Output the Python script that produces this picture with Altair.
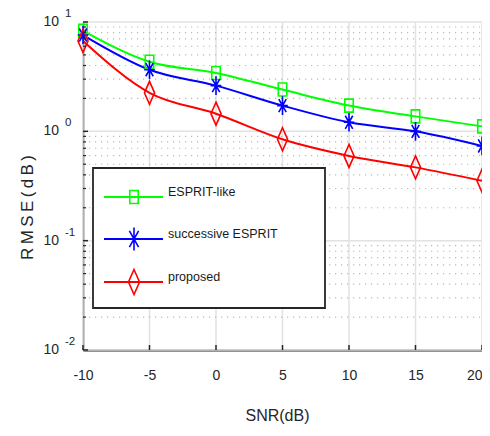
import altair as alt
import pandas as pd

snr = [-10, -5, 0, 5, 10, 15, 20]
esprit_like = [8.3, 4.33, 3.42, 2.41, 1.72, 1.37, 1.11]
successive = [7.6, 3.66, 2.62, 1.72, 1.21, 1.00, 0.735]
proposed = [6.7, 2.25, 1.45, 0.846, 0.596, 0.468, 0.353]
methods = ["ESPRIT-like", "successive ESPRIT", "proposed"]
colors = ["#00ff00", "#0000ff", "#ff0000"]

x_ticks = [-10, -5, 0, 5, 10, 15, 20]
y_major = [0.01, 0.1, 1, 10]
y_exp = ["-2", "-1", "0", "1"]
y_minor = [m * 10.0 ** e for e in (-2, -1, 0) for m in range(2, 10)]

SQ = "M-0.65,-1H0.65V1H-0.65Z"
AST = "M0,-1V1M-0.57,0H0.57M-0.4,-0.7L0.4,0.7M-0.4,0.7L0.4,-0.7"
DIA = "M0,-1L0.44,0L0,1L-0.44,0Z"
shapes = [SQ, AST, DIA]
sizes = [169, 529, 625]

W, H = 399, 328
FONT = "Liberation Sans, Arial"

rows = []
for name, vals in zip(methods, [esprit_like, successive, proposed]):
    for s, v in zip(snr, vals):
        rows.append({"snr": s, "rmse": v, "method": name})
df = pd.DataFrame(rows)

xs = alt.Scale(domain=[-10, 20], nice=False, zero=False)
ys = alt.Scale(type="log", domain=[0.01, 10], nice=False)

x_enc = alt.X("snr:Q", scale=xs, axis=alt.Axis(
    values=x_ticks, labelExpr="'' + datum.value", labelFlush=False, labelOverlap=False,
    labelAlign={"condition": {"test": "datum.value == 20", "value": "right"}, "value": "center"},
    title="SNR(dB)", titleX=194, titleY=65, titleBaseline="middle",
    titleFont=FONT, titleFontSize=16, titleFontWeight="normal", titleColor="#262626",
    labelFont=FONT, labelFontSize=14, labelColor="#262626", labelPadding=25,
    labelBaseline="middle", tickSize=0,
    domainColor="#262626", domainWidth=2, ticks=False, grid=False))
y_enc = alt.Y("rmse:Q", scale=ys, axis=alt.Axis(
    values=y_major, labels=False, ticks=False, tickSize=0, grid=False,
    title="R\u2009M\u2009S\u2009E\u2009(\u2009d\u2009B\u2009)", titleX=-56, titleY=185,
    titleBaseline="middle", titleAngle=270,
    titleFont=FONT, titleFontSize=17, titleFontWeight="normal",
    titleColor="#262626", domainColor="#262626", domainWidth=1.5))

# grids
xgrid = alt.Chart(pd.DataFrame({"snr": x_ticks})).mark_rule(color="#e2e2e2", strokeWidth=1.5).encode(
    x=alt.X("snr:Q", scale=xs), y=alt.value(0), y2=alt.value(H))
ygrid = alt.Chart(pd.DataFrame({"rmse": y_major})).mark_rule(color="#e2e2e2", strokeWidth=1.5).encode(
    y=alt.Y("rmse:Q", scale=ys), x=alt.value(0), x2=alt.value(W + 10))
ymgrid = alt.Chart(pd.DataFrame({"rmse": y_minor})).mark_rule(
    color="#b8b8b8", strokeWidth=1.2, strokeDash=[1.2, 4.8]).encode(
    y=alt.Y("rmse:Q", scale=ys), x=alt.value(0), x2=alt.value(W + 10))

# ticks (inward)
xtick = alt.Chart(pd.DataFrame({"snr": x_ticks})).mark_rule(color="#262626", strokeWidth=1.5).encode(
    x=alt.X("snr:Q", scale=xs), y=alt.value(H), y2=alt.value(H - 5))
ytick = alt.Chart(pd.DataFrame({"rmse": y_major})).mark_rule(color="#262626", strokeWidth=1.5).encode(
    y=alt.Y("rmse:Q", scale=ys), x=alt.value(0), x2=alt.value(5))
ymtick = alt.Chart(pd.DataFrame({"rmse": y_minor})).mark_rule(color="#262626", strokeWidth=1.2).encode(
    y=alt.Y("rmse:Q", scale=ys), x=alt.value(0), x2=alt.value(3))

# y labels 10^k
ylab_df = pd.DataFrame({"rmse": y_major, "exp": y_exp})
ylab = alt.Chart(ylab_df).mark_text(align="right", baseline="middle", font=FONT, fontSize=14,
                                    color="#262626", dy=0).encode(
    y=alt.Y("rmse:Q", scale=ys), x=alt.value(-24), text=alt.value("10"))
yexp = alt.Chart(ylab_df).mark_text(align="left", baseline="middle", font=FONT, fontSize=11.5,
                                    color="#262626", dy=-8).encode(
    y=alt.Y("rmse:Q", scale=ys), x=alt.value(-18), text="exp:N")

color_scale = alt.Scale(domain=methods, range=colors)
lines = alt.Chart(df).mark_line(interpolate="monotone", strokeWidth=2, clip=False).encode(
    x=x_enc, y=y_enc, color=alt.Color("method:N", scale=color_scale, legend=None))
points = alt.Chart(df).mark_point(filled=False, strokeWidth=1.6, opacity=1).encode(
    x=alt.X("snr:Q", scale=xs), y=alt.Y("rmse:Q", scale=ys),
    color=alt.Color("method:N", scale=color_scale, legend=None),
    shape=alt.Shape("method:N", scale=alt.Scale(domain=methods, range=shapes), legend=None),
    size=alt.Size("method:N", scale=alt.Scale(domain=methods, range=sizes), legend=None))

# legend
legend_layers = [
    alt.Chart(pd.DataFrame({"a": [0]})).mark_rect(fill="white", stroke="#262626", strokeWidth=1.8).encode(
        x=alt.value(10), x2=alt.value(242), y=alt.value(146), y2=alt.value(286))
]
leg_y = [175, 217, 260]
for name, col, shp, sz, ly in zip(methods, colors, shapes, sizes, leg_y):
    d = pd.DataFrame({"label": [name]})
    legend_layers.append(alt.Chart(d).mark_rule(color=col, strokeWidth=2).encode(
        x=alt.value(21), x2=alt.value(80), y=alt.value(ly)))
    legend_layers.append(alt.Chart(d).mark_point(filled=False, strokeWidth=1.6, opacity=1, color=col,
                                                 shape=shp, size=sz).encode(
        x=alt.value(51), y=alt.value(ly)))
    legend_layers.append(alt.Chart(d).mark_text(align="left", baseline="middle", font=FONT,
                                                fontSize=12.5, color="#1a1a1a").encode(
        x=alt.value(85), y=alt.value(ly - 5), text="label:N"))

chart = alt.layer(
    xgrid, ygrid, ymgrid, lines, points, xtick, ytick, ymtick, ylab, yexp, *legend_layers
).properties(
    width=W, height=H,
    autosize=alt.AutoSizeParams(type="none"),
    padding={"left": 75, "top": 14, "right": 0, "bottom": 74},
).configure_view(stroke=None).configure_axis(grid=False, ticks=False, labels=True)

chart.save("out.html", embed_options={"renderer": "svg", "actions": False})
